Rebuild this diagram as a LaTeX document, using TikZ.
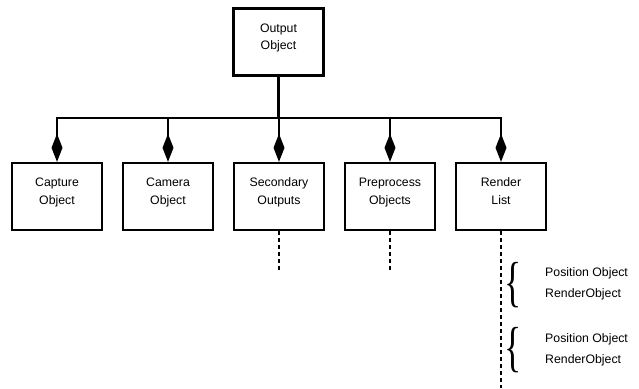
\documentclass[tikz,border=0pt]{standalone}
\usepackage{fontspec}
\usepackage{graphicx}
\setmainfont{Liberation Sans}
\newfontfamily\bracefont{Liberation Serif}
\usetikzlibrary{arrows.meta}

\tikzset{
  box/.style={draw, line width=2.4pt, minimum width=90pt, inner sep=0pt, align=center,
    text height=41pt, text depth=26pt, font=\fontsize{12.3}{17.5}\selectfont},
  agg/.style={line width=2.4pt, -{Diamond[length=28pt,width=11pt]}},
  link/.style={line width=2.4pt, dash pattern=on 4pt off 3pt},
  item/.style={anchor=base west, inner sep=0pt, font=\fontsize{12.3}{14}\selectfont},
  brace/.style={inner sep=0pt, font=\bracefont\fontsize{55}{55}\selectfont}
}

\begin{document}
\begin{tikzpicture}[x=1pt,y=-1pt]
\useasboundingbox (0,0) rectangle (639,388);

\node[box] (out) at (278.5,42) {Output\\Object};
\node[box] (cap) at (57,196.5) {Capture\\Object};
\node[box] (cam) at (168,196.5) {Camera\\Object};
\node[box] (sec) at (279,196.5) {Secondary\\Outputs};
\node[box] (pre) at (390,196.5) {Preprocess\\Objects};
\node[box] (ren) at (501,196.5) {Render\\List};

\coordinate (bar) at (278.5,118);
\draw[agg] (out.south) -- (bar) -| (cap.north);
\draw[agg] (out.south) -- (bar) -| (cam.north);
\draw[agg] (out.south) -- (bar) -| (sec.north);
\draw[agg] (out.south) -- (bar) -| (pre.north);
\draw[agg] (out.south) -- (bar) -| (ren.north);

\coordinate (secend) at (279,270);
\coordinate (preend) at (390,270);
\coordinate (renend) at (501,388);
\draw[link] (sec.south) -- (secend);
\draw[link] (pre.south) -- (preend);
\draw[link] (ren.south) -- (renend);

\node[brace] (br1) at (513,285) {\scalebox{0.65}[1]{\{}};
\node[item] (pos1) at (545,276.5) {Position Object};
\node[item] (obj1) at (545,297.5) {RenderObject};

\node[brace] (br2) at (513,350.5) {\scalebox{0.65}[1]{\{}};
\node[item] (pos2) at (545,342.5) {Position Object};
\node[item] (obj2) at (545,363.5) {RenderObject};
\end{tikzpicture}
\end{document}
